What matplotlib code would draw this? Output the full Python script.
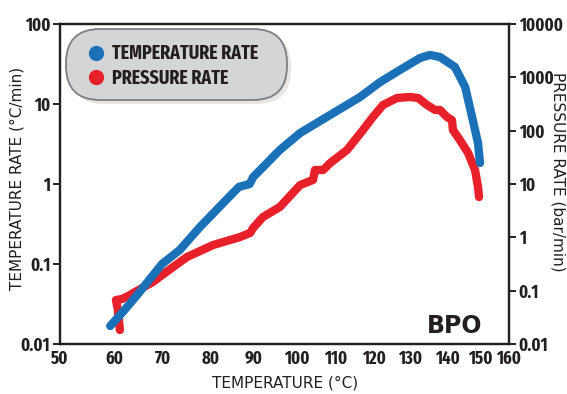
"""BPO runaway: temperature rate and pressure rate versus temperature."""

import numpy as np
import matplotlib.pyplot as plt
from matplotlib import font_manager
from matplotlib.font_manager import FontProperties
from matplotlib.lines import Line2D
from matplotlib.patches import FancyBboxPatch

# temperature rate (°C/min), left axis
temp_T = [59.3, 62.0, 65.0, 69.8, 73.5, 77.7, 83.5, 86.5, 89.0, 89.8, 92.6, 96.0,
          100.8, 108.5, 116.3, 121.7, 127.2, 132.7, 135.4, 138.1, 142.4, 145.5,
          147.6, 149.4, 150.0]
temp_rate = [0.0168, 0.026, 0.043, 0.10, 0.15, 0.29, 0.63, 0.92, 1.0, 1.22, 1.73, 2.66,
             4.34, 7.3, 12.2, 18.8, 26.6, 37.6, 41.0, 38.7, 29.0, 16.3,
             6.9, 3.25, 1.83]

# pressure rate (bar/min), right axis
pres_T = [61.2, 60.8, 60.4, 61.6, 63.3, 63.9, 67.9, 72.1, 75.0, 80.5, 86.7, 89.1,
          89.8, 92.1, 96.0, 100.8, 104.1, 104.6, 106.7, 108.5, 112.9, 117.1, 119.7,
          122.5, 126.4, 130.0, 132.2, 134.6, 136.8, 138.1, 140.0, 141.5, 141.8,
          143.9, 146.4, 148.5, 149.4, 149.7]
pres_rate = [0.0183, 0.0434, 0.0668, 0.0697, 0.083, 0.090, 0.145, 0.278, 0.428, 0.718,
             1.01, 1.21, 1.5, 2.41, 3.7, 9.57, 11.9, 18.3, 18.3, 24.7, 43.4, 103, 180,
             303, 410, 428, 410, 303, 244, 244, 180, 158, 103,
             66.8, 38.1, 18.3, 8.8, 5.7]

x_ticks = [50, 60, 70, 80, 90, 100, 110, 120, 130, 140, 150, 160]
left_ticks = [0.01, 0.1, 1, 10, 100]
right_ticks = [0.01, 0.1, 1, 10, 100, 1000, 10000]

# the printed temperature scale is not evenly spaced; where each label sits (px)
x_tick_px = [60, 114, 163, 211, 254, 297, 336, 374, 410, 447, 480, 509]

BLUE = "#1b71b8"
RED = "#e8202a"
INK = "#231f20"
W, H = 567, 394


def narrow_bold_font():
    """Pick the narrowest bold sans that is installed (the original uses a
    condensed DIN-like face)."""
    order = {"ultra-condensed": 0, "extra-condensed": 1, "condensed": 2,
             "semi-condensed": 3, "normal": 9}
    best, best_key = None, None
    for f in font_manager.fontManager.ttflist:
        w = f.weight if isinstance(f.weight, int) else font_manager.weight_dict.get(f.weight, 400)
        if w < 600 or w > 800 or f.style != "normal":
            continue
        st = f.stretch if isinstance(f.stretch, str) else "normal"
        rank = order.get(st, 9)
        if "ExtraCondensed" in f.fname or "Extra Condensed" in f.name:
            rank = min(rank, 1)
        elif "Narrow" in f.name or "Condensed" in f.name or "Condensed" in f.fname:
            rank = min(rank, 2)
        if rank >= 9:
            continue
        key = (abs(rank - 1), abs(w - 700))
        if best_key is None or key < best_key:
            best, best_key = f, key
    if best is None:
        return FontProperties(family="DejaVu Sans", weight="bold")
    return FontProperties(fname=best.fname)


NARROW = narrow_bold_font()


def fwd(t):
    return np.interp(t, x_ticks, x_tick_px)


def inv(p):
    return np.interp(p, x_tick_px, x_ticks)


fig = plt.figure(figsize=(W / 100, H / 100), dpi=100)
ax = fig.add_axes([60 / W, 50 / H, 449 / W, 320 / H])
ax2 = ax.twinx()
ax.set_zorder(ax2.get_zorder() + 1)
ax.patch.set_visible(False)

ax2.plot(pres_T, pres_rate, color=RED, lw=6, solid_capstyle="round", solid_joinstyle="round")
ax.plot(temp_T, temp_rate, color=BLUE, lw=6, solid_capstyle="round", solid_joinstyle="round")

# legend pill (drawn by hand so it gets the long rounded ends of the original)
px = fig.dpi_scale_trans  # inches; 1 px = 0.01 in
for dx, dy, fc, ec in [(4, -4, "#e6e6e7", "none"), (0, 0, "#d4d5d7", "#7d7e80")]:
    ax.add_patch(FancyBboxPatch(((66 + dx) / 100, (H - 100 + dy) / 100), 2.21, 0.71,
                                boxstyle="round,pad=0,rounding_size=0.34",
                                transform=px, facecolor=fc, edgecolor=ec, lw=1.3,
                                zorder=4, clip_on=False))

ax.set_xscale("function", functions=(fwd, inv))
ax.set_xlim(50, 160)
ax.set_yscale("log")
ax.set_ylim(0.01, 100)
ax2.set_yscale("log")
ax2.set_ylim(0.01, 10000)

ax.set_xticks(x_ticks)
ax.set_xticklabels([str(t) for t in x_ticks])
ax.set_yticks(left_ticks)
ax.set_yticklabels([f"{v:g}" for v in left_ticks])
ax.minorticks_off()
ax2.set_yticks(right_ticks)
ax2.set_yticklabels([f"{v:g}" for v in right_ticks])
ax2.minorticks_off()

for a in (ax, ax2):
    for s in a.spines.values():
        s.set_color(INK)
        s.set_linewidth(1.6)
    for lab in a.get_xticklabels() + a.get_yticklabels():
        lab.set_fontproperties(NARROW)
        lab.set_fontsize(13)
        lab.set_color(INK)
ax.tick_params(axis="x", length=0, pad=4)
ax.tick_params(axis="y", length=5, width=1.4, color=INK, pad=2)
ax2.tick_params(axis="y", length=5, width=1.4, color=INK, pad=2)

lab_kw = dict(fontsize=11, color=INK, family="DejaVu Sans")
fig.text(285 / W, 1 - 383 / H, "TEMPERATURE (°C)", ha="center", va="center", **lab_kw)
fig.text(17 / W, 1 - 178 / H, "TEMPERATURE RATE (°C/min)", rotation=90,
         ha="center", va="center", **lab_kw)
fig.text(558 / W, 1 - 172 / H, "PRESSURE RATE (bar/min)", rotation=-90,
         ha="center", va="center", **lab_kw)

ax.text(0.94, 0.018, "BPO", transform=ax.transAxes, ha="right", va="bottom",
        fontsize=17, fontweight="heavy", color=INK, family="DejaVu Sans")

handles = [
    Line2D([], [], ls="", marker="o", ms=10, color=BLUE, label="TEMPERATURE RATE"),
    Line2D([], [], ls="", marker="o", ms=10, color=RED, label="PRESSURE RATE"),
]
leg_prop = NARROW.copy()
leg_prop.set_size(14)
leg = ax.legend(handles=handles, loc="upper left", bbox_to_anchor=(86 / 100, (H - 44) / 100),
                bbox_transform=px, borderaxespad=0, frameon=False,
                handletextpad=0.32, handlelength=1.0, labelspacing=0.26,
                borderpad=0, prop=leg_prop)
leg.set_zorder(5)
for t in leg.get_texts():
    t.set_color(INK)

fig.savefig("out.png", dpi=100)
